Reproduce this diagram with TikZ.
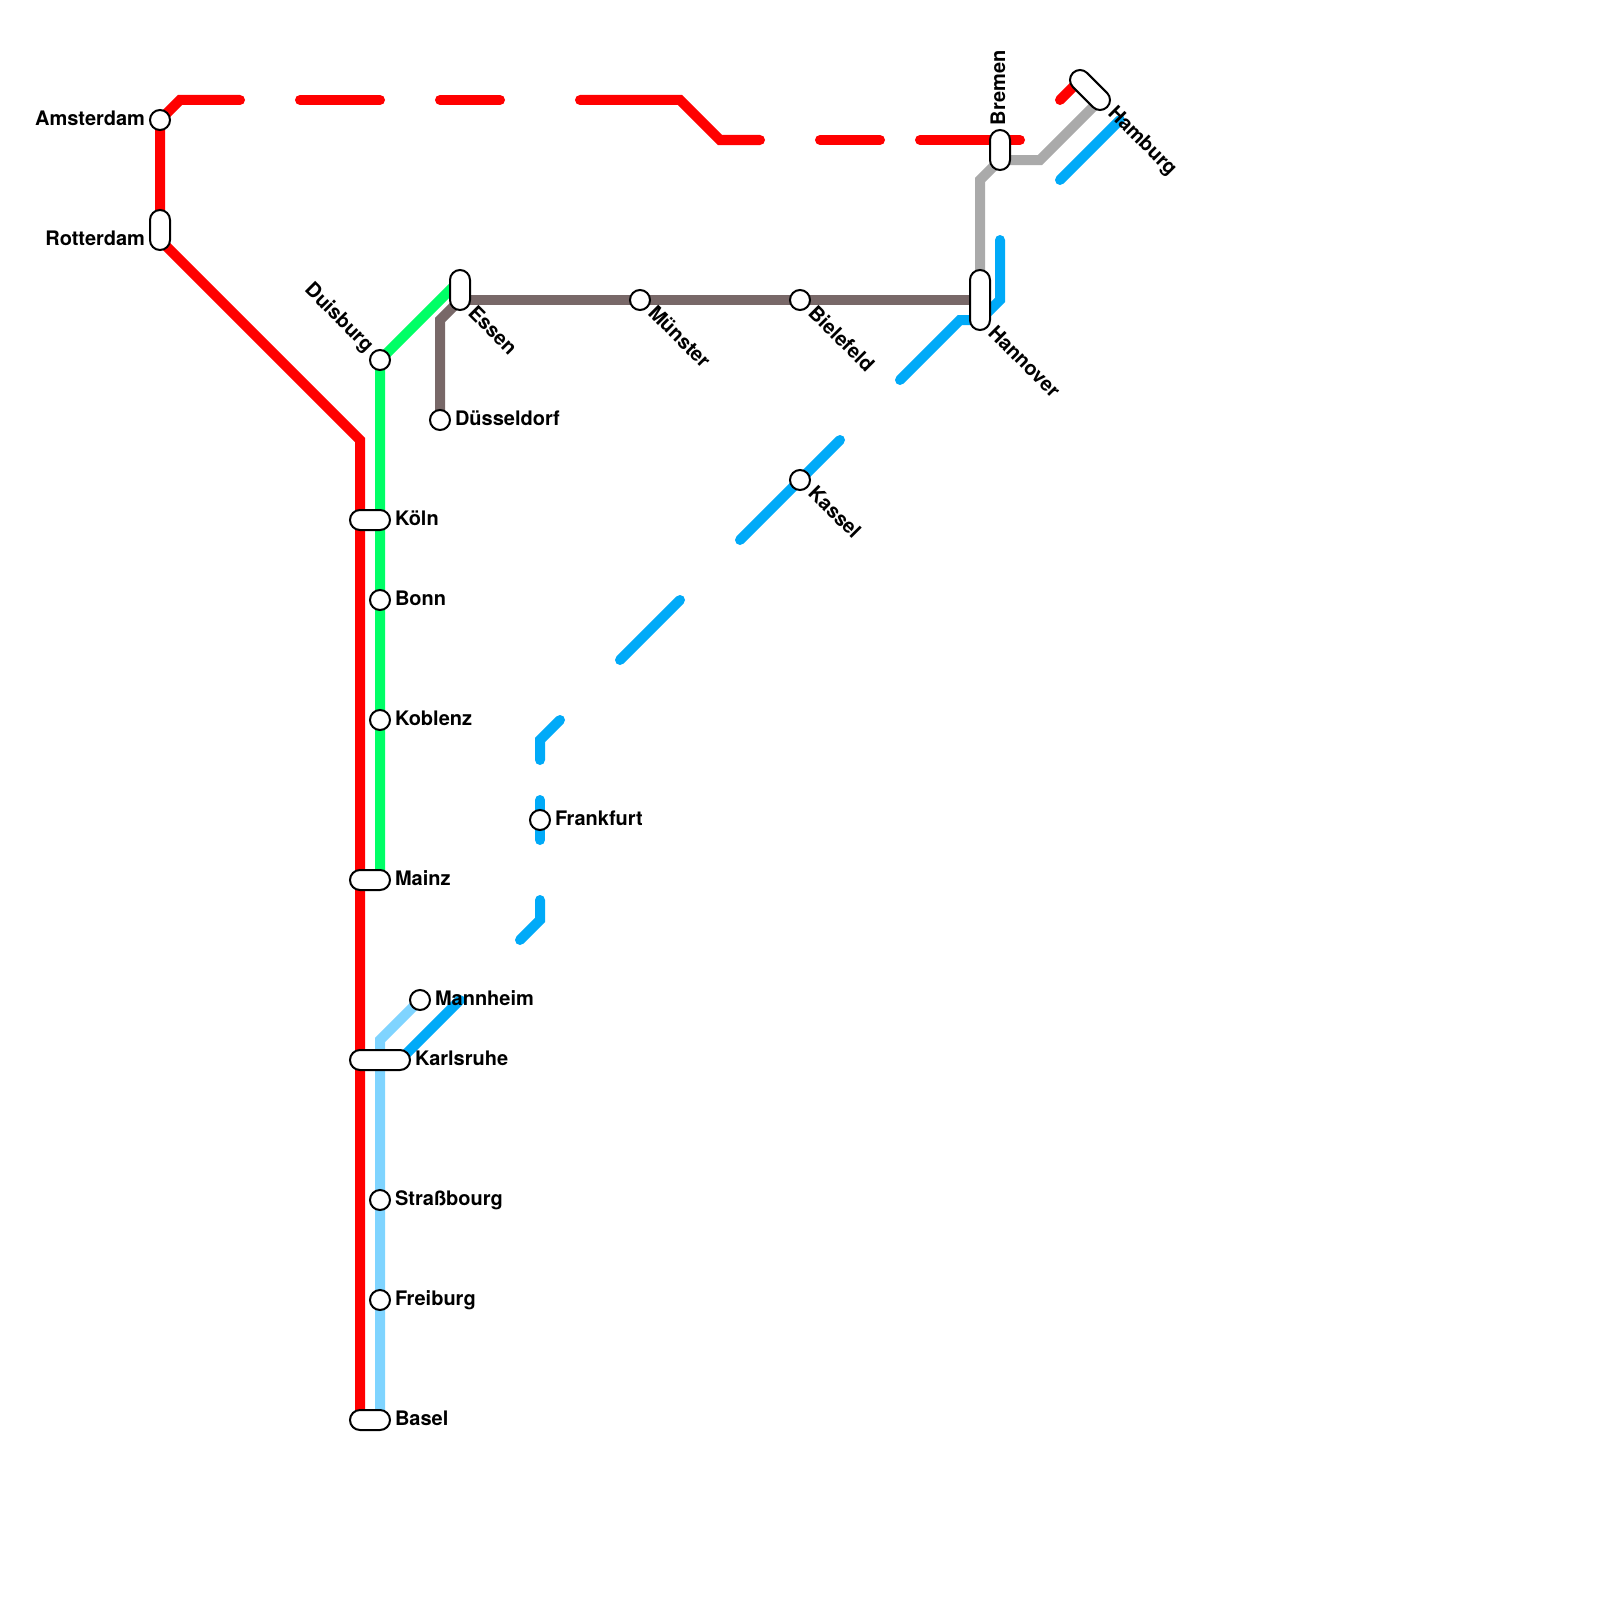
\documentclass[tikz,border=0pt]{standalone}
\usepackage{fontspec}
\setmainfont{TeX Gyre Heros}
\usepackage{xcolor}
\usetikzlibrary{positioning,backgrounds}
\definecolor{mapred}{HTML}{FF0000}
\definecolor{mapgreen}{HTML}{00FF66}
\definecolor{mapbrown}{HTML}{786868}
\definecolor{mapgray}{HTML}{AAAAAA}
\definecolor{mapblue}{HTML}{00AAF8}
\definecolor{maplight}{HTML}{7FD4FF}

\begin{document}
\begin{tikzpicture}[
    x=1pt, y=-1pt,
    stop/.style={circle, draw=black, fill=white, line width=2pt, minimum size=20pt,
                 inner sep=0pt, outer sep=0pt},
    widestop/.style={rectangle, rounded corners=10pt, draw=black, fill=white, line width=2pt,
                 minimum height=20pt, inner sep=0pt, outer sep=0pt},
    tallstop/.style={rectangle, rounded corners=10pt, draw=black, fill=white, line width=2pt,
                 minimum width=20pt, inner sep=0pt, outer sep=0pt},
    lbl/.style={inner sep=0pt, outer sep=0pt, text height=14pt, text depth=4pt,
                font=\bfseries\fontsize{20}{24}\selectfont},
    slant/.style={lbl, rotate=-45},
    track/.style={line width=10pt, line cap=round, line join=miter},
  ]
    \useasboundingbox (0,0) rectangle (1600,1600);

    % stations
    \node[stop] (amsterdam) at (160,120) {};
    \node[tallstop, minimum height=40pt] (rotterdam) at (160,230) {};
    \node[stop] (duisburg) at (380,360) {};
    \node[tallstop, minimum height=40pt] (essen) at (460,290) {};
    \node[stop] (duesseldorf) at (440,420) {};
    \node[stop] (muenster) at (640,300) {};
    \node[stop] (bielefeld) at (800,300) {};
    \node[tallstop, minimum height=60pt] (hannover) at (980,300) {};
    \node[tallstop, minimum height=40pt] (bremen) at (1000,150) {};
    \node[widestop, minimum width=48.28pt, rotate=-45] (hamburg) at (1090,90) {};
    \node[stop] (kassel) at (800,480) {};
    \node[stop] (frankfurt) at (540,820) {};
    \node[widestop, minimum width=40pt] (koeln) at (370,520) {};
    \node[stop] (bonn) at (380,600) {};
    \node[stop] (koblenz) at (380,720) {};
    \node[widestop, minimum width=40pt] (mainz) at (370,880) {};
    \node[stop] (mannheim) at (420,1000) {};
    \node[widestop, minimum width=60pt] (karlsruhe) at (380,1060) {};
    \node[stop] (strassbourg) at (380,1200) {};
    \node[stop] (freiburg) at (380,1300) {};
    \node[widestop, minimum width=40pt] (basel) at (370,1420) {};

    % labels
    \node[lbl, left=5pt of amsterdam] (lamsterdam) {Amsterdam};
    \node[lbl, anchor=east] (lrotterdam) at (145,240) {Rotterdam};
    \node[lbl, right=5pt of duesseldorf] (lduesseldorf) {Düsseldorf};
    \node[lbl, right=5pt of frankfurt] (lfrankfurt) {Frankfurt};
    \node[lbl, right=5pt of koeln] (lkoeln) {Köln};
    \node[lbl, right=5pt of bonn] (lbonn) {Bonn};
    \node[lbl, right=5pt of koblenz] (lkoblenz) {Koblenz};
    \node[lbl, right=5pt of mainz] (lmainz) {Mainz};
    \node[lbl, right=5pt of mannheim] (lmannheim) {Mannheim};
    \node[lbl, right=5pt of karlsruhe] (lkarlsruhe) {Karlsruhe};
    \node[lbl, right=5pt of strassbourg] (lstrassbourg) {Straßbourg};
    \node[lbl, right=5pt of freiburg] (lfreiburg) {Freiburg};
    \node[lbl, right=5pt of basel] (lbasel) {Basel};
    \node[slant, anchor=east] (lduisburg) at ([shift={(135:15pt)}]duisburg) {Duisburg};
    \node[slant, anchor=west] (lessen) at ([shift={(-45:15pt)}]460,300) {Essen};
    \node[slant, anchor=west] (lmuenster) at ([shift={(-45:15pt)}]muenster) {Münster};
    \node[slant, anchor=west] (lbielefeld) at ([shift={(-45:15pt)}]bielefeld) {Bielefeld};
    \node[slant, anchor=west] (lkassel) at ([shift={(-45:15pt)}]kassel) {Kassel};
    \node[slant, anchor=west] (lhannover) at ([shift={(-45:15pt)}]980,320) {Hannover};
    \node[slant, anchor=west] (lhamburg) at ([shift={(-45:15pt)}]1100,100) {Hamburg};
    \node[lbl, rotate=90, anchor=west] (lbremen) at ([yshift=15pt]1000,140) {Bremen};

    % bends and free ends
    \coordinate (ra) at (180,100);   \coordinate (rb) at (240,100);
    \coordinate (rc) at (300,100);   \coordinate (rd) at (380,100);
    \coordinate (re) at (440,100);   \coordinate (rf) at (500,100);
    \coordinate (rg) at (580,100);   \coordinate (rh) at (680,100);
    \coordinate (ri) at (720,140);   \coordinate (rj) at (760,140);
    \coordinate (rk) at (820,140);   \coordinate (rl) at (880,140);
    \coordinate (rm) at (920,140);   \coordinate (rn) at (1020,140);
    \coordinate (ro) at (1060,100);  \coordinate (rp) at (1080,80);
    \coordinate (rq) at (160,240);   \coordinate (rr) at (360,440);
    \coordinate (rs) at (360,1420);
    \coordinate (ga) at (460,280);   \coordinate (gb) at (380,880);
    \coordinate (ba) at (460,300);   \coordinate (bb) at (440,320);
    \coordinate (ya) at (980,180);   \coordinate (yb) at (1000,160);
    \coordinate (yc) at (1040,160);  \coordinate (yd) at (1100,100);
    \coordinate (ua) at (1060,180);  \coordinate (ub) at (1120,120);
    \coordinate (uc) at (1000,240);  \coordinate (ud) at (1000,300);
    \coordinate (ue) at (980,320);   \coordinate (uf) at (960,320);
    \coordinate (ug) at (900,380);   \coordinate (uh) at (840,440);
    \coordinate (ui) at (740,540);   \coordinate (uj) at (680,600);
    \coordinate (uk) at (620,660);   \coordinate (ul) at (560,720);
    \coordinate (um) at (540,740);   \coordinate (un) at (540,760);
    \coordinate (uo) at (540,800);   \coordinate (up) at (540,840);
    \coordinate (uq) at (540,900);   \coordinate (ur) at (540,920);
    \coordinate (us) at (520,940);   \coordinate (ut) at (460,1000);
    \coordinate (uu) at (400,1060);
    \coordinate (la) at (380,1040);  \coordinate (lb) at (380,1420);

    \begin{scope}[on background layer]
      \draw[track, mapred] (amsterdam.center) -- (ra) -- (rb);
      \draw[track, mapred] (rc) -- (rd);
      \draw[track, mapred] (re) -- (rf);
      \draw[track, mapred] (rg) -- (rh) -- (ri) -- (rj);
      \draw[track, mapred] (rk) -- (rl);
      \draw[track, mapred] (rm) -- (rn);
      \draw[track, mapred] (ro) -- (rp);
      \draw[track, mapred] (amsterdam.center) -- (rq) -- (rr) -- (rs);

      \draw[track, mapgreen] (ga) -- (duisburg.center) -- (gb);

      \draw[track, mapbrown] (ba) -- (hannover.center);
      \draw[track, mapbrown] (duesseldorf.center) -- (bb) -- (ba);

      \draw[track, mapgray] (hannover.center) -- (ya) -- (yb) -- (yc) -- (yd);

      \draw[track, mapblue] (ua) -- (ub);
      \draw[track, mapblue] (uc) -- (ud) -- (ue) -- (uf) -- (ug);
      \draw[track, mapblue] (uh) -- (ui);
      \draw[track, mapblue] (uj) -- (uk);
      \draw[track, mapblue] (ul) -- (um) -- (un);
      \draw[track, mapblue] (uo) -- (up);
      \draw[track, mapblue] (uq) -- (ur) -- (us);
      \draw[track, mapblue] (ut) -- (uu);

      \draw[track, maplight] (mannheim.center) -- (la) -- (lb);
    \end{scope}
  \end{tikzpicture}
\end{document}
